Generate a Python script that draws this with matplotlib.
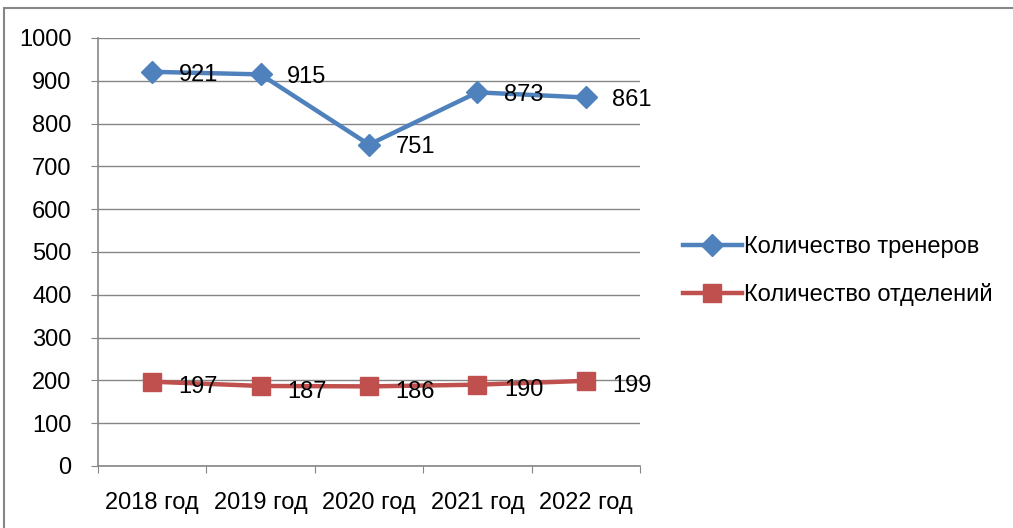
import matplotlib
matplotlib.use("Agg")
import matplotlib.pyplot as plt
from matplotlib.patches import Rectangle

years = ["2018 год", "2019 год", "2020 год", "2021 год", "2022 год"]
trainers = [921, 915, 751, 873, 861]
departments = [197, 187, 186, 190, 199]
series_names = ["Количество тренеров", "Количество отделений"]

plt.rcParams['font.family'] = ['Liberation Sans', 'DejaVu Sans']
plt.rcParams['font.size'] = 17

fig = plt.figure(figsize=(10.13, 5.28), dpi=100)
ax = fig.add_axes([98 / 1013, 62 / 528, 542 / 1013, 428 / 528])

# outer chart border (only top and left visible in the reference)
fig.patches.append(Rectangle((4 / 1013, -0.1), 1.2, 520 / 528 + 0.1,
                             transform=fig.transFigure, fill=False,
                             edgecolor="#868686", linewidth=1.5))

x = list(range(len(years)))
l1, = ax.plot(x, trainers, color="#4F81BD", lw=3.2, marker="D", ms=11,
              label=series_names[0], zorder=3)
l2, = ax.plot(x, departments, color="#C0504D", lw=3.2, marker="s", ms=13,
              label=series_names[1], zorder=3)

for xi, v in zip(x, trainers):
    ax.annotate(str(v), (xi, v), xytext=(19, -2), textcoords="offset points",
                ha="left", va="center", zorder=4)
for xi, v in zip(x, departments):
    ax.annotate(str(v), (xi, v), xytext=(19, -4), textcoords="offset points",
                ha="left", va="center", zorder=4)

ax.set_xlim(-0.5, 4.5)
ax.set_ylim(0, 1000)
ax.set_yticks(range(0, 1001, 100))
ax.grid(axis="y", color="#868686", lw=1)
ax.set_axisbelow(True)

ax.set_xticks([i - 0.5 for i in range(len(years) + 1)])
ax.set_xticklabels([])
ax.set_xticks(x, minor=True)
ax.set_xticklabels(years, minor=True)
ax.tick_params(axis="x", which="major", length=5, color="#868686")
ax.tick_params(axis="x", which="minor", length=0, pad=19)
ax.tick_params(axis="y", length=5, color="#868686", pad=14)

for s in ["top", "right"]:
    ax.spines[s].set_visible(False)
for s in ["left", "bottom"]:
    ax.spines[s].set_color("#868686")
    ax.spines[s].set_linewidth(1.2)

ax.legend(handles=[l1, l2], loc="center left", bbox_to_anchor=(1.04, 0.455),
          frameon=False, handlelength=2.5, handletextpad=0.1,
          labelspacing=1.05)

fig.savefig("out.png", dpi=100)
